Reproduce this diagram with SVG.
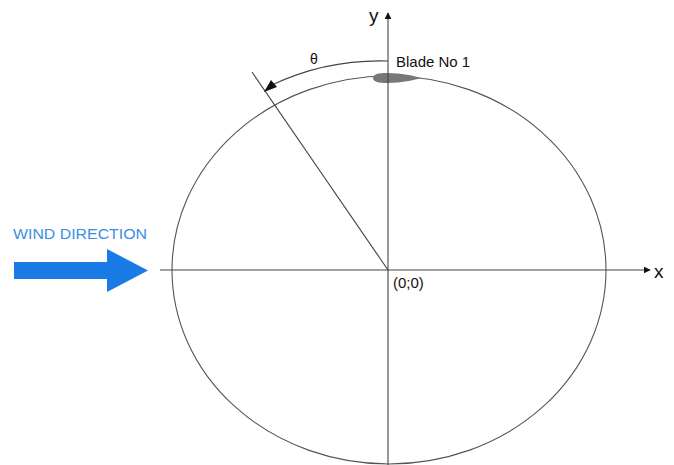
<svg xmlns="http://www.w3.org/2000/svg" width="674" height="465" viewBox="0 0 674 465">
<style>
.ln{fill:none;stroke:#444;stroke-width:1.1}
.lbl{font-family:"Liberation Sans",Arial,sans-serif;fill:#111}
</style>
<defs>
<marker id="ah" viewBox="0 0 10 10" refX="9" refY="5" markerWidth="7" markerHeight="7" markerUnits="userSpaceOnUse" orient="auto">
<path d="M0,0 L10,5 L0,10 z" fill="#111"/>
</marker>
</defs>
<rect width="674" height="465" fill="#fff"/>
<g id="rotor">
<ellipse cx="389" cy="270" rx="217" ry="194" fill="none" stroke="#555" stroke-width="1.1"/>
<path d="M373,78 C373,72.5 385,72.5 398,73.5 C408,74.5 416,76.5 421,78 C416,79.5 408,81.5 398,82.5 C385,83.5 373,83.5 373,78 z" fill="#777"/>
</g>
<g id="connectors">
<line class="ln" x1="160" y1="270" x2="650" y2="270" marker-end="url(#ah)"/>
<line class="ln" x1="388" y1="465" x2="388" y2="13" marker-end="url(#ah)"/>
<line class="ln" x1="388" y1="270" x2="252" y2="72"/>
<path class="ln" d="M388,61 A232,209 0 0 0 272,85"/>
<polygon points="264,92 271,80 277,87" fill="#111"/>
</g>
<g id="labels">
<text class="lbl" x="369" y="22" font-size="19">y</text>
<text class="lbl" x="654" y="278" font-size="19">x</text>
<text class="lbl" x="310" y="64" font-size="14">θ</text>
<text class="lbl" x="396" y="67" font-size="15">Blade No 1</text>
<text class="lbl" x="393" y="288" font-size="15">(0;0)</text>
</g>
<g id="wind">
<text x="13" y="239" font-family="Liberation Sans,Arial,sans-serif" font-size="14" fill="#3a8ee6" textLength="134" lengthAdjust="spacingAndGlyphs">WIND DIRECTION</text>
<polygon points="14,262 107,262 107,249 148,270.5 107,292 107,279 14,279" fill="#1a7ae6"/>
</g>
</svg>
